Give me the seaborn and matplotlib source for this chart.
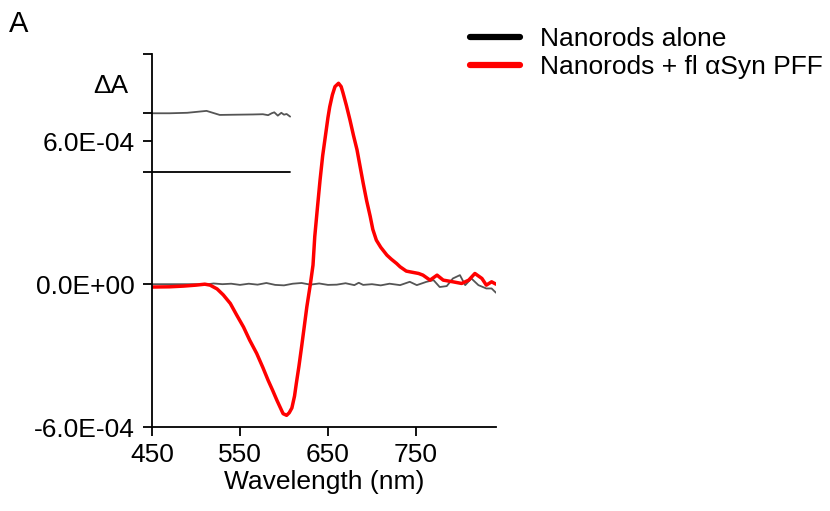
import numpy as np
import pandas as pd
import matplotlib
matplotlib.use('Agg')
import matplotlib.pyplot as plt
from matplotlib.lines import Line2D
import seaborn as sns

sns.set_style('ticks')
plt.rcParams['font.family'] = ['Liberation Sans', 'DejaVu Sans']
plt.rcParams['font.size'] = 19
plt.rcParams['text.color'] = 'black'
plt.rcParams['axes.labelcolor'] = 'black'
plt.rcParams['xtick.color'] = 'black'
plt.rcParams['ytick.color'] = 'black'
plt.rcParams['axes.edgecolor'] = 'black'
plt.rcParams['lines.solid_joinstyle'] = 'round'
plt.rcParams['lines.solid_capstyle'] = 'round'

RED = '#FF0000'
GRAY = '#555555'

# ── data ────────────────────────────────────────────────────────────────────
# nanorods + fl aSyn PFF
wl_pff = [450, 470, 486, 500, 510, 516, 524, 531, 539, 546, 554, 561, 569, 576,
          582, 587, 592, 596, 599, 603, 606, 609, 612, 614, 617, 620, 623, 626,
          630, 633, 635, 638, 641, 644, 647, 650, 652, 655, 658, 662, 665, 667,
          671, 675, 679, 683, 686, 690, 694, 698, 701, 705, 710, 717, 722, 728,
          732, 739, 743, 753, 758, 766, 774, 781, 792, 802, 810, 817, 825, 830,
          836, 841]
dA_pff = [-1.2e-5, -1.1e-5, -8e-6, -4e-6, 0, -4e-6, -2e-5, -4.5e-5, -8.1e-5,
          -1.28e-4, -1.8e-4, -2.35e-4, -2.91e-4, -3.5e-4, -4.04e-4, -4.45e-4,
          -4.88e-4, -5.2e-4, -5.44e-4, -5.51e-4, -5.4e-4, -5.2e-4, -4.7e-4,
          -4.18e-4, -3.45e-4, -2.64e-4, -1.8e-4, -9.5e-5, 0, 8e-5, 2.0e-4,
          3.2e-4, 4.37e-4, 5.4e-4, 6.2e-4, 7.0e-4, 7.45e-4, 7.95e-4, 8.3e-4,
          8.44e-4, 8.3e-4, 8.05e-4, 7.5e-4, 6.9e-4, 6.25e-4, 5.65e-4, 5.05e-4,
          4.25e-4, 3.5e-4, 2.85e-4, 2.3e-4, 1.85e-4, 1.55e-4, 1.22e-4, 1.05e-4,
          8.7e-5, 7.3e-5, 5.5e-5, 5.2e-5, 4.5e-5, 3.8e-5, 1.7e-5, 3.8e-5,
          1.7e-5, 1e-5, 3e-6, 1.7e-5, 4.5e-5, 2.4e-5, -4e-6, 1e-5, 0]

# nanorods alone
wl_alone = [450, 460, 470, 480, 490, 500, 510, 520, 530, 540, 550, 560, 570, 580,
            590, 600, 610, 620, 630, 640, 650, 660, 670, 680, 685, 690, 700, 710,
            720, 732, 743, 751, 762, 770, 777, 785, 792, 800, 806, 813, 821, 830,
            836, 841]
dA_alone = [0, 0, 0, 0, 0, 0, -2e-6, 3e-6, 0, 2e-6, -3e-6, 2e-6, -2e-6, 5e-6,
            -3e-6, -5e-6, 2e-6, 5e-6, -2e-6, 3e-6, -3e-6, -2e-6, 4e-6, -4e-6,
            6e-6, -3e-6, 0, -5e-6, 2e-6, -4e-6, 1e-5, -4e-6, 1e-5, 1.7e-5,
            -1.2e-5, -8e-6, 2.4e-5, 3.8e-5, -4e-6, 2.4e-5, -4e-6, -1.8e-5,
            -1.8e-5, -3.6e-5]

# short reference traces at the top left
wl_ref = [450, 470, 490, 512, 527, 545, 565, 576, 582, 586, 589, 593, 597, 600,
          603, 607]
dA_ref_gray = [7.18e-4, 7.18e-4, 7.2e-4, 7.28e-4, 7.11e-4, 7.12e-4, 7.13e-4,
               7.14e-4, 7.1e-4, 7.18e-4, 7.22e-4, 7.08e-4, 7.2e-4, 7.12e-4,
               7.15e-4, 7.04e-4]
wl_ref_black = [450, 607]
dA_ref_black = [4.7e-4, 4.7e-4]

yticks = [-6e-4, 0, 4.7e-4, 6e-4, 7.18e-4, 9.67e-4]
ytick_labels = ['-6.0E-04', '0.0E+00', '', '6.0E-04', '', '']
xticks = [450, 550, 650, 750]

# ── figure ──────────────────────────────────────────────────────────────────
fig = plt.figure(figsize=(8.3, 5.11), dpi=100)
ax = fig.add_axes([152 / 830, 1 - 427 / 511, (496 - 152) / 830, (427 - 54) / 511])

sns.lineplot(x=wl_ref, y=dA_ref_gray, ax=ax, color=GRAY, lw=1.3)
sns.lineplot(x=wl_ref_black, y=dA_ref_black, ax=ax, color='black', lw=1.3)
sns.lineplot(x=wl_alone, y=dA_alone, ax=ax, color=GRAY, lw=1.3)
sns.lineplot(x=wl_pff, y=dA_pff, ax=ax, color=RED, lw=2.5)

ax.set_xlim(450, 841)
ax.set_ylim(-6e-4, 9.67e-4)
ax.set_xticks(xticks)
ax.set_xticklabels([str(t) for t in xticks])
ax.set_yticks(yticks)
ax.set_yticklabels(ytick_labels)
for side in ['top', 'right']:
    ax.spines[side].set_visible(False)
for side in ['left', 'bottom']:
    ax.spines[side].set_linewidth(1.3)
ax.tick_params(axis='both', length=6.5, width=1.3, color='black',
               labelcolor='black', labelsize=19)
ax.tick_params(axis='y', pad=6)
ax.tick_params(axis='x', pad=5)
ax.set_xlabel('Wavelength (nm)', fontsize=19, labelpad=2, color='black')
ax.set_ylabel('')

fig.text(128 / 830, 1 - 86 / 511, 'ΔA', ha='right', va='center', fontsize=19,
         color='black')
fig.text(9 / 830, 1 - 24 / 511, 'A', ha='left', va='center', fontsize=21,
         color='black')

handles = [Line2D([0], [0], color='black', lw=4.5),
           Line2D([0], [0], color=RED, lw=4.5)]
fig.legend(handles, ['Nanorods alone', 'Nanorods + fl αSyn PFF'],
           loc='upper left', bbox_to_anchor=(470 / 830, 1 - 27 / 511),
           frameon=False, fontsize=19, handlelength=1.9, handletextpad=0.75,
           labelspacing=0.15, borderpad=0, borderaxespad=0, labelcolor='black')

fig.savefig('out.png', dpi=100)
